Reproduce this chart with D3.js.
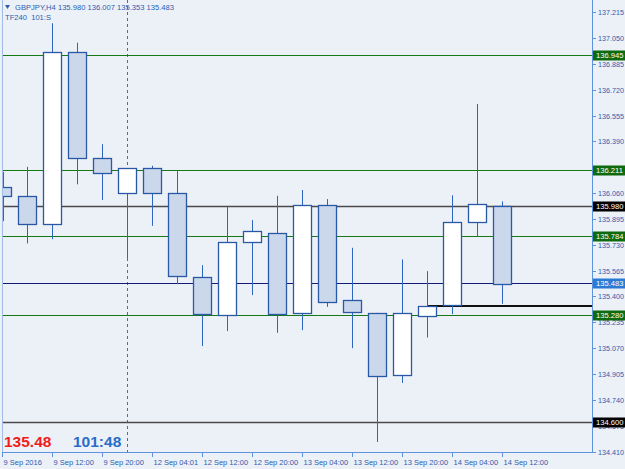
<!doctype html>
<meta charset="utf-8">
<title>GBPJPY H4</title>
<script src="https://cdn.jsdelivr.net/npm/d3@7"></script>
<style>
body { margin: 0; background: #ecf1f8; }
svg { display: block; font-family: "Liberation Sans", Arial, sans-serif; }
</style>
<svg id="chart" width="625" height="469"></svg>
<script>
// H4 bars, 9 Sep 04:00 .. 14 Sep 12:00
var times = ["9 Sep 2016", "9 Sep 08:00", "9 Sep 12:00", "9 Sep 16:00", "9 Sep 20:00",
             "12 Sep 00:01", "12 Sep 04:01", "12 Sep 08:00", "12 Sep 12:00", "12 Sep 16:00",
             "12 Sep 20:00", "13 Sep 00:00", "13 Sep 04:00", "13 Sep 08:00", "13 Sep 12:00",
             "13 Sep 16:00", "13 Sep 20:00", "14 Sep 00:00", "14 Sep 04:00", "14 Sep 08:00",
             "14 Sep 12:00"];
var opens  = [136.101, 136.043, 135.867, 136.963, 136.282, 136.058, 136.218, 136.058, 135.524, 135.285,
              135.749, 135.803, 135.292, 135.984, 135.377, 135.296, 134.893, 135.273, 135.340, 135.873, 135.980];
var highs  = [136.196, 136.228, 137.145, 137.021, 136.373, 136.218, 136.235, 136.201, 135.600, 135.973,
              135.888, 136.043, 136.080, 136.022, 135.711, 135.296, 135.637, 135.562, 136.046, 136.629, 136.007];
var lows   = [135.881, 135.739, 135.766, 136.116, 136.016, 135.645, 135.851, 135.479, 135.083, 135.179,
              135.409, 135.168, 135.185, 135.334, 135.070, 134.471, 134.848, 135.138, 135.287, 135.781, 135.353];
var closes = [136.043, 135.867, 136.963, 136.286, 136.184, 136.218, 136.058, 135.530, 135.285, 135.749,
              135.820, 135.285, 135.984, 135.366, 135.298, 134.893, 135.292, 135.340, 135.873, 135.988, 135.483];

// 136.225 sits under the 136.211 label, so it's not listed
var priceTicks = ["137.215", "137.050", "136.885", "136.720", "136.555", "136.390", "136.060",
                  "135.895", "135.730", "135.565", "135.400", "135.235", "135.070", "134.905", "134.740",
                  "134.575", "134.410"];

// horizontal levels: price, line colour, label background
var levelPrices = [136.945, 136.211, 135.980, 135.784, 135.280, 134.600];
var levelKinds  = ["green", "green", "black", "green", "green", "black"];
var bidPrice = 135.483;

var svg = d3.select("#chart");
var plotL = 2, plotR = 592, plotT = 0, plotB = 452;

var x = d3.scaleLinear().domain([0, times.length - 1]).range([2.5, 502.5]);
var y = d3.scaleLinear().domain([134.410, 137.215]).range([451.5, 12.3]);

var colors = {
  green: "#157a15", greenBox: "#0e6a0e",
  black: "#4a4a4a", blackBox: "#000",
  bid: "#101c78", bidBox: "#2b7bd4",
  wick: "#2d66bf", border: "#2958a6", bear: "#cbd8ec",
  axis: "#5d93dc", text: "#2c5cae"
};

svg.append("defs").append("clipPath").attr("id", "plot")
  .append("rect").attr("x", plotL).attr("y", plotT)
  .attr("width", plotR - plotL).attr("height", plotB - plotT);

var plot = svg.append("g").attr("clip-path", "url(#plot)");

// week separator
plot.append("line")
  .attr("x1", Math.round(x(5)) - 0.5).attr("x2", Math.round(x(5)) - 0.5).attr("y1", plotT).attr("y2", plotB)
  .attr("stroke", "#3a6fc9").attr("stroke-dasharray", "3,3");

// level lines
levelPrices.forEach(function(p, i) {
  plot.append("line")
    .attr("x1", plotL).attr("x2", plotR)
    .attr("y1", Math.round(y(p)) + 0.5).attr("y2", Math.round(y(p)) + 0.5)
    .attr("stroke", colors[levelKinds[i]])
    .attr("stroke-width", levelKinds[i] == "black" ? 1.6 : 1.2);
});
plot.append("line")
  .attr("x1", plotL).attr("x2", plotR)
  .attr("y1", Math.round(y(bidPrice)) + 0.5).attr("y2", Math.round(y(bidPrice)) + 0.5)
  .attr("stroke", colors.bid).attr("stroke-width", 1.2);
// segment from the 14 Sep 00:00 close
plot.append("line")
  .attr("x1", x(17)).attr("x2", plotR)
  .attr("y1", Math.round(y(closes[17]))).attr("y2", Math.round(y(closes[17])))
  .attr("stroke", "#111").attr("stroke-width", 2);

// candles
var idx = d3.range(times.length);
var candle = plot.selectAll("g.candle").data(idx).enter().append("g").attr("class", "candle");

candle.append("line")
  .attr("x1", function(i) { return Math.max(3.5, Math.round(x(i)) - 0.5); })
  .attr("x2", function(i) { return Math.max(3.5, Math.round(x(i)) - 0.5); })
  .attr("y1", function(i) { return y(highs[i]); })
  .attr("y2", function(i) { return y(lows[i]); })
  .attr("stroke", colors.wick);

candle.append("rect")
  .attr("x", function(i) { return Math.round(x(i)) - 9.5; })
  .attr("width", 18)
  .attr("y", function(i) { return Math.round(y(Math.max(opens[i], closes[i]))) + 0.5; })
  .attr("height", function(i) { return Math.max(1, Math.round(Math.abs(y(opens[i]) - y(closes[i])))); })
  .attr("fill", function(i) { return closes[i] >= opens[i] ? "#fff" : colors.bear; })
  .attr("stroke", colors.border)
  .attr("stroke-width", 1.3);

// frame
svg.append("line").attr("x1", plotL + 0.5).attr("x2", plotL + 0.5).attr("y1", plotT).attr("y2", plotB)
  .attr("stroke", "#9fbde6");
svg.append("line").attr("x1", plotR + 0.5).attr("x2", plotR + 0.5).attr("y1", plotT).attr("y2", plotB + 0.5)
  .attr("stroke", colors.axis);
svg.append("line").attr("x1", plotL).attr("x2", plotR + 1).attr("y1", plotB + 0.5).attr("y2", plotB + 0.5)
  .attr("stroke", colors.axis);

// price axis
var yAxis = svg.append("g");
priceTicks.forEach(function(t) {
  var yy = Math.round(y(+t)) + 0.5;
  yAxis.append("line").attr("x1", plotR).attr("x2", plotR + 4).attr("y1", yy).attr("y2", yy)
    .attr("stroke", colors.axis);
  yAxis.append("text").attr("x", plotR + 6).attr("y", yy + 2.6)
    .attr("font-size", "7.2px").attr("fill", colors.text).text(t);
});

function priceBox(p, bg) {
  var yy = Math.round(y(p));
  svg.append("rect").attr("x", plotR + 1).attr("y", yy - 4.5).attr("width", 625 - plotR).attr("height", 10)
    .attr("fill", bg);
  svg.append("text").attr("x", plotR + 4).attr("y", yy + 3)
    .attr("font-size", "7.6px").attr("fill", "#fff").text(p.toFixed(3));
}
levelPrices.forEach(function(p, i) { priceBox(p, colors[levelKinds[i] + "Box"]); });
priceBox(bidPrice, colors.bidBox);

// time axis
var xAxis = svg.append("g");
idx.filter(function(i) { return i % 2 == 0; }).forEach(function(i) {
  var xx = Math.round(x(i)) - 0.5;
  xAxis.append("line").attr("x1", xx).attr("x2", xx).attr("y1", plotB).attr("y2", plotB + 5)
    .attr("stroke", colors.axis);
  xAxis.append("text").attr("x", xx + 1).attr("y", 465)
    .attr("font-size", "7.5px").attr("fill", colors.text).text(times[i]);
});

// header
svg.append("path").attr("d", "M5,5 L10,5 L7.5,9 Z").attr("fill", colors.text);
svg.append("text").attr("x", 15).attr("y", 10).attr("font-size", "7.6px").attr("fill", colors.text)
  .text("GBPJPY,H4 " + [opens[20], highs[20], lows[20], closes[20]].map(function(v) { return v.toFixed(3); }).join(" "));
svg.append("text").attr("x", 5).attr("y", 19.5).attr("font-size", "7.6px").attr("fill", colors.text)
  .attr("xml:space", "preserve").text("TF240  101:S");

// bid and timer
svg.append("text").attr("x", 4).attr("y", 447).attr("font-size", "15.5px").attr("font-weight", "bold")
  .attr("fill", "#f21c1c").text(closes[20].toFixed(2));
svg.append("text").attr("x", 73).attr("y", 447).attr("font-size", "15.5px").attr("font-weight", "bold")
  .attr("fill", "#2a6cc6").text("101:48");
</script>
